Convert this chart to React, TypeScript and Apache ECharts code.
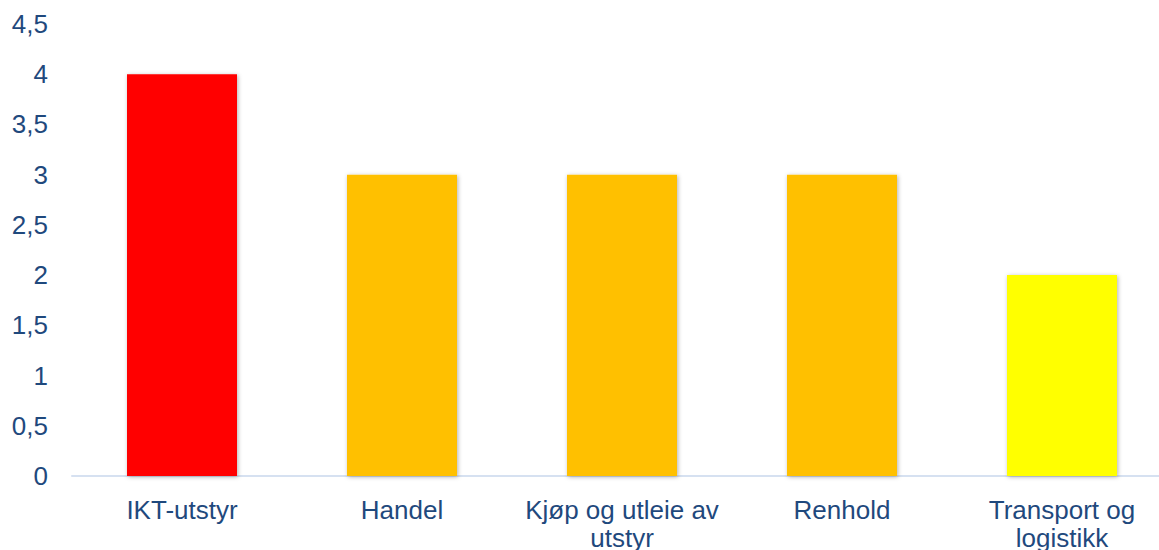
import React, { useEffect, useRef } from "react";
import * as echarts from "echarts";

const categories = ["IKT-utstyr", "Handel", "Kjøp og utleie av\nutstyr", "Renhold", "Transport og\nlogistikk"];
const values = [4, 3, 3, 3, 2];
const barColors = ["#FF0000", "#FFC000", "#FFC000", "#FFC000", "#FFFF00"];
const yMin = 0;
const yMax = 4.5;
const yInterval = 0.5;

export default function App() {
  const ref = useRef<HTMLDivElement>(null);
  useEffect(() => {
    document.body.style.margin = "0";
    const chart = echarts.init(ref.current!, null, { renderer: "svg" });
    const textColor = "#1F497D";
    const font = "'Liberation Sans', Arial, sans-serif";
    chart.setOption({
      animation: false,
      backgroundColor: "#ffffff",
      grid: {
        left: 72,
        top: 24,
        right: 8,
        bottom: 74,
        containLabel: false,
        outerBoundsMode: "none",
      },
      xAxis: {
        type: "category",
        data: categories,
        axisLine: { show: true, lineStyle: { color: "#D6E1F1", width: 2 } },
        axisTick: { show: false },
        axisLabel: {
          color: textColor,
          fontFamily: font,
          fontSize: 26,
          lineHeight: 28,
          margin: 20,
          interval: 0,
        },
      },
      yAxis: {
        type: "value",
        min: yMin,
        max: yMax,
        interval: yInterval,
        splitLine: { show: false },
        axisLine: { show: false },
        axisTick: { show: false },
        axisLabel: {
          color: textColor,
          fontFamily: font,
          fontSize: 26,
          margin: 24,
          formatter: (v: number) => String(v).replace(".", ","),
        },
      },
      series: [
        {
          type: "bar",
          barWidth: "50%",
          data: values.map((v, i) => ({
            value: v,
            itemStyle: {
              color: barColors[i],
              shadowColor: "rgba(0,0,0,0.3)",
              shadowBlur: 4,
              shadowOffsetX: 1,
              shadowOffsetY: 1,
            },
          })),
        },
      ],
    });
    return () => chart.dispose();
  }, []);
  return (
    <div style={{ width: 1159, height: 550, overflow: "hidden", position: "relative" }}>
      <div ref={ref} style={{ width: 1180, height: 550 }} />
    </div>
  );
}
